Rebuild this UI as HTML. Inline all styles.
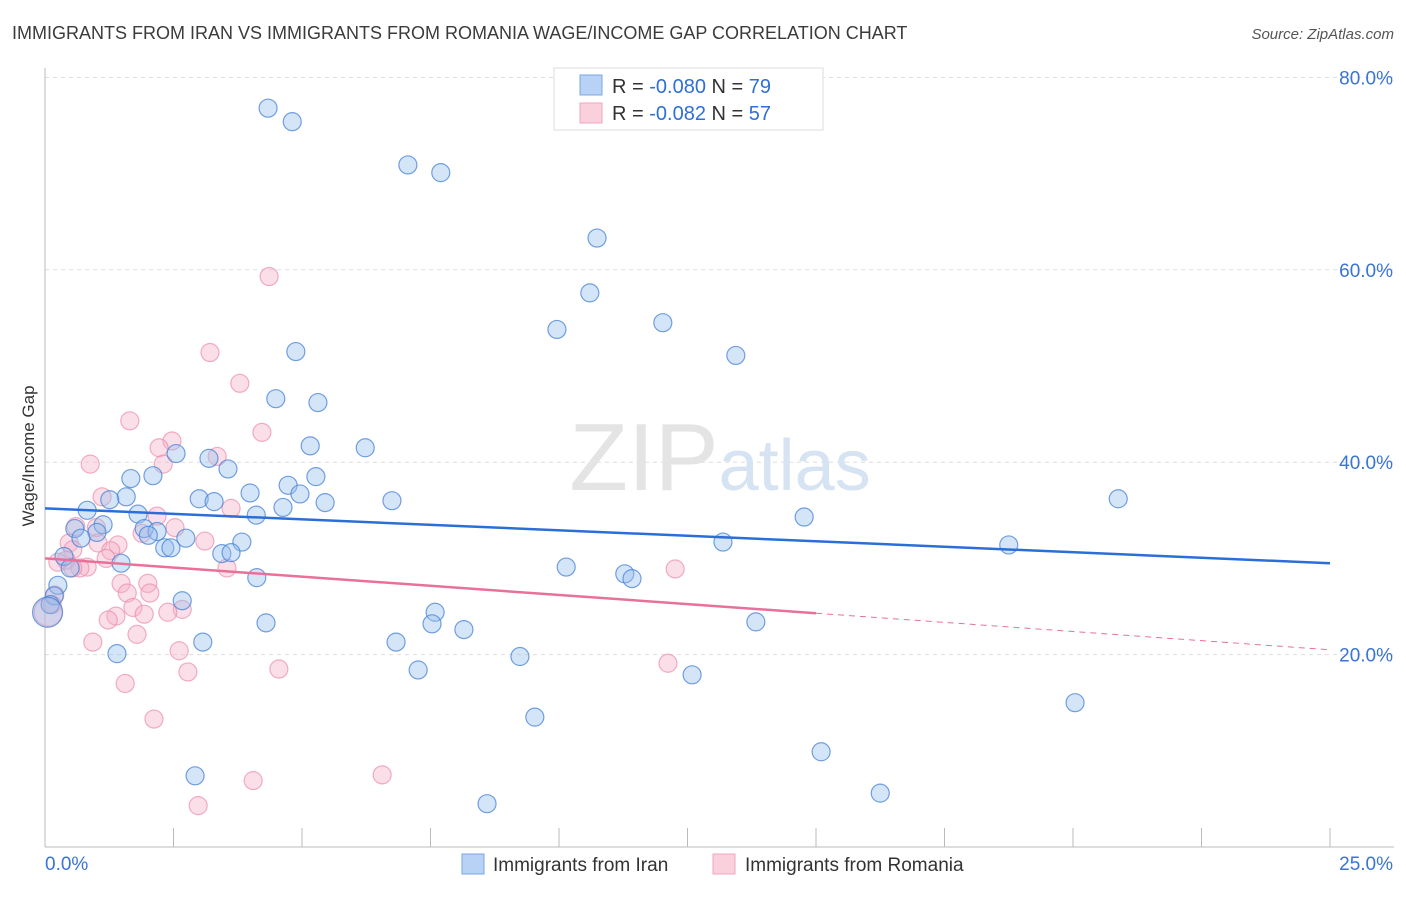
<!DOCTYPE html>
<html><head><meta charset="utf-8"><style>
body{margin:0;background:#fff;font-family:"Liberation Sans",sans-serif}
svg text{font-family:"Liberation Sans",sans-serif}
</style></head><body>
<svg id="chart" width="1406" height="892" xmlns="http://www.w3.org/2000/svg">
<text x="12" y="39" font-size="18" fill="#3b3b3b">IMMIGRANTS FROM IRAN VS IMMIGRANTS FROM ROMANIA WAGE/INCOME GAP CORRELATION CHART</text>
<text x="1394" y="39" font-size="15" fill="#555" text-anchor="end" font-style="italic">Source: ZipAtlas.com</text>
<g id="grid"></g>
<text x="720" y="490" font-size="96" fill="#e4e4e4" text-anchor="middle" font-family="Liberation Serif">ZIP<tspan fill="#d5e3f3" font-family="Liberation Sans" font-size="72">atlas</tspan></text>
<text transform="translate(34,456) rotate(-90)" font-size="17" fill="#333" text-anchor="middle">Wage/Income Gap</text>
<g id="marks"></g>
<g>
<rect x="554" y="68" width="269" height="62" fill="#fff" stroke="#ddd"/>
<rect x="580" y="75" width="22" height="20" fill="#b7d2f5" stroke="#7aa7e4"/>
<text x="612" y="93" font-size="20" fill="#333">R = <tspan fill="#2f6fd6">-0.080</tspan>   N = <tspan fill="#2f6fd6">79</tspan></text>
<rect x="580" y="103" width="22" height="20" fill="#fad0dd" stroke="#f0a4bd"/>
<text x="612" y="120" font-size="20" fill="#333">R =  <tspan fill="#2f6fd6">-0.082</tspan>   N = <tspan fill="#2f6fd6">57</tspan></text>
</g>
<g>
<rect x="462" y="854" width="22" height="20" fill="#b7d2f5" stroke="#7aa7e4"/>
<text x="493" y="871" font-size="19" fill="#333">Immigrants from Iran</text>
<rect x="713" y="854" width="22" height="20" fill="#fad0dd" stroke="#f0a4bd"/>
<text x="745" y="871" font-size="19" fill="#333">Immigrants from Romania</text>
</g>
</svg>
<script>
const yTicks=[20,40,60,80];
const yTickLabels=["20.0%","40.0%","60.0%","80.0%"];
const xTicks=[0,2.5,5,7.5,10,12.5,15,17.5,20,22.5,25];
const xEndLabels=["0.0%","25.0%"];
const iranX=[4.34,4.81,7.06,7.70,10.74,10.60,9.96,12.02,13.44,4.88,4.49,5.31,5.16,6.23,2.55,3.19,3.56,2.10,1.67,5.27,4.73,3.99,1.58,1.26,3.00,3.29,4.96,4.63,5.45,6.75,20.88,0.82,1.81,4.11,14.77,1.13,0.58,1.93,2.18,1.01,0.70,2.01,2.74,3.83,13.19,18.75,2.33,2.45,3.44,3.62,0.37,1.48,0.49,10.14,11.28,11.42,4.12,0.25,0.18,0.10,2.67,7.59,7.53,8.15,4.30,13.83,3.07,6.83,1.40,9.24,7.26,12.59,20.04,9.53,15.10,2.92,16.25,8.60,0.05];
const iranY=[76.8,75.4,70.9,70.1,63.3,57.6,53.8,54.5,51.1,51.5,46.6,46.2,41.7,41.5,40.9,40.4,39.3,38.6,38.3,38.5,37.6,36.8,36.4,36.1,36.2,35.9,36.7,35.3,35.8,36.0,36.2,35.0,34.6,34.5,34.3,33.5,33.1,33.1,32.8,32.7,32.1,32.4,32.1,31.7,31.7,31.4,31.1,31.1,30.5,30.6,30.2,29.5,29.0,29.1,28.4,27.9,28.0,27.2,26.1,25.2,25.6,24.4,23.2,22.6,23.3,23.4,21.3,21.3,20.1,19.8,18.4,17.9,15.0,13.5,9.9,7.4,5.6,4.5,24.4];
const romX=[4.36,3.21,3.79,1.65,4.22,2.47,2.22,3.35,2.30,0.88,1.11,3.62,2.18,2.53,1.00,0.60,1.89,3.11,0.47,1.42,1.03,1.28,0.54,1.19,0.41,0.25,0.82,0.68,0.54,3.54,12.26,1.48,2.00,1.60,2.04,0.19,0.14,1.71,2.67,1.38,1.93,2.39,1.23,1.79,0.93,2.61,12.12,2.78,4.55,1.56,2.12,6.56,4.05,2.98,0.06];
const romY=[59.3,51.4,48.2,44.3,43.1,42.2,41.5,40.6,39.8,39.8,36.4,35.2,34.4,33.2,33.2,33.3,32.6,31.8,31.6,31.4,31.6,30.8,30.9,30.0,29.8,29.6,29.1,29.0,29.0,29.0,28.9,27.4,27.4,26.4,26.4,26.2,25.2,24.9,24.7,24.0,24.2,24.4,23.6,22.1,21.3,20.4,19.1,18.2,18.5,17.0,13.3,7.5,6.9,4.3,24.4];
const iranTrend=[35.2,29.5];
const romTrend=[30.0,20.5];
const romSolidEnd=15;
const sx=v=>45+v*51.4, sy=v=>847-v*9.62;
const NS="http://www.w3.org/2000/svg";
function mk(p,t,a){const e=document.createElementNS(NS,t);for(const k in a)e.setAttribute(k,a[k]);p.appendChild(e);return e;}
const grid=document.getElementById('grid'), marks=document.getElementById('marks');
yTicks.forEach((t,i)=>{
 const g=mk(grid,'line',{x1:45,x2:1394,y1:sy(t),y2:sy(t),stroke:'#ddd','stroke-dasharray':'4,4'});
 
 
 const l=mk(grid,'text',{x:1393,y:sy(t)+7,'font-size':19,fill:'#3a74d4','text-anchor':'end'});
 l.textContent=yTickLabels[i];
 
 
});
const ax=mk(grid,'line',{x1:45,x2:45,y1:68,y2:847,stroke:'#bbb'});


const bx=mk(grid,'line',{x1:45,x2:1394,y1:847,y2:847,stroke:'#bbb'});


xTicks.forEach(t=>{
 const k=mk(grid,'line',{x1:sx(t),x2:sx(t),y1:828,y2:847,stroke:'#bbb'});
 
 
});
[[0,'start',45],[25,'end',1393]].forEach((d,i)=>{
 const l=mk(grid,'text',{x:d[2],y:870,'font-size':19,fill:'#3a74d4','text-anchor':d[1]});
 l.textContent=xEndLabels[i];
 
 
});
romX.forEach((x,i)=>{
 const big=(i===romX.length-1);
 const c=mk(marks,'circle',{cx:sx(x),cy:sy(romY[i]),r:big?14:9,fill:'rgba(246,176,198,0.4)',stroke:'rgba(236,140,172,0.7)','stroke-width':1.2});
 
 
});
iranX.forEach((x,i)=>{
 const big=(i===iranX.length-1);
 const c=mk(marks,'circle',{cx:sx(x),cy:sy(iranY[i]),r:big?15:9,fill:'rgba(150,190,238,0.4)',stroke:'rgba(70,130,215,0.75)','stroke-width':1.2});
 
 
});
const bt=mk(marks,'line',{x1:sx(0),y1:sy(iranTrend[0]),x2:sx(25),y2:sy(iranTrend[1]),stroke:'#2a6fd8','stroke-width':2.5});


const rAt=v=>romTrend[0]+(romTrend[1]-romTrend[0])*v/25;
const rt=mk(marks,'line',{x1:sx(0),y1:sy(romTrend[0]),x2:sx(romSolidEnd),y2:sy(rAt(romSolidEnd)),stroke:'#e8709a','stroke-width':2.5});


const rd=mk(marks,'line',{x1:sx(romSolidEnd),y1:sy(rAt(romSolidEnd)),x2:sx(25),y2:sy(romTrend[1]),stroke:'#e8709a','stroke-width':1,'stroke-dasharray':'6,5'});


</script>
</body></html>
